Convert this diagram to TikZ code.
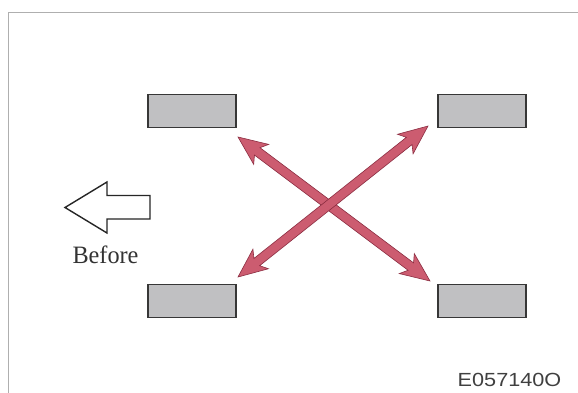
\documentclass[tikz,border=0pt]{standalone}
\usepackage{fontspec}
\setmainfont{Liberation Serif}
\newfontfamily\labelfont{Liberation Sans}
\definecolor{framegray}{RGB}{175,175,175}
\definecolor{boxfill}{RGB}{192,192,194}
\definecolor{boxline}{RGB}{55,55,55}
\definecolor{arrowpink}{RGB}{204,92,112}
\definecolor{arrowedge}{RGB}{140,45,65}
\begin{document}
\begin{tikzpicture}[x=1pt,y=-1pt,
  wheel/.style={draw=boxline,fill=boxfill,line width=1.8pt,minimum width=88pt,minimum height=33pt,inner sep=0pt},
  swaparrow/.style={fill=arrowpink,draw=arrowedge,line width=0.6pt,line join=miter},
  dirarrow/.style={fill=white,draw=black!85,line width=1.4pt,line join=miter}]
\useasboundingbox (0,0) rectangle (578,393);
\fill[white] (0,0) rectangle (578,393);
% frame
\draw[framegray,line width=1.6pt] (8.5,393) -- (8.5,12.5) -- (578,12.5);
% wheels
\node[wheel] (fl) at (192,111) {};
\node[wheel] (fr) at (482,111) {};
\node[wheel] (rl) at (192,301) {};
\node[wheel] (rr) at (482,301) {};
% swap arrows
\coordinate (a1) at (238,137);
\coordinate (b1) at (430,281);
\coordinate (a2) at (238,277);
\coordinate (b2) at (428,126);
\begin{scope}[shift={(a1)},rotate=-36.87]
\draw[swaparrow] (0,0) -- (29,12.5) -- (24,4.6) -- (216,4.6) -- (211,12.5) -- (240,0) -- (211,-12.5) -- (216,-4.6) -- (24,-4.6) -- (29,-12.5) -- cycle;
\end{scope}
\begin{scope}[shift={(a2)},rotate=38.47]
\draw[swaparrow] (0,0) -- (29,12.5) -- (24,4.6) -- (218.7,4.6) -- (213.7,12.5) -- (242.7,0) -- (213.7,-12.5) -- (218.7,-4.6) -- (24,-4.6) -- (29,-12.5) -- cycle;
\end{scope}
% direction arrow
\draw[dirarrow] (65,207.5) -- (107,182) -- (107,195.5) -- (150,195.5) -- (150,219) -- (107,219) -- (107,233) -- cycle;
\node[font=\fontsize{25}{27}\selectfont,xscale=0.97,text=black!80] (before) at (105.5,255) {Before};
\node[font=\labelfont\fontsize{19}{21}\selectfont,xscale=1.14,text=black!75] (code) at (509.5,380) {E057140O};
\end{tikzpicture}
\end{document}
